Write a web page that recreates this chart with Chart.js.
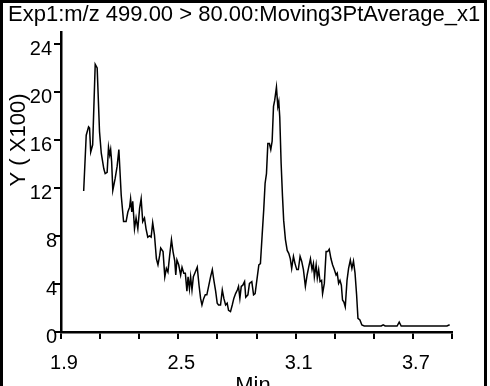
<!DOCTYPE html>
<html>
<head>
<meta charset="utf-8">
<script src="https://cdn.jsdelivr.net/npm/chart.js@4"></script>
<style>
  html, body { margin: 0; padding: 0; background: #fff; overflow: hidden; }
  canvas { display: block; }
</style>
</head>
<body>
<canvas id="chromChart" width="490" height="386"></canvas>
<script>
const titleText = 'Exp1:m/z 499.00 > 80.00:Moving3PtAverage_x1';
const xAxisTitle = 'Min';
const yAxisTitle = 'Y ( X100)';

// retention time (min)
const retentionTimes = [
  2.016, 2.029, 2.041, 2.046, 2.052, 2.062, 2.075, 2.085, 2.097, 2.106,
  2.119, 2.126, 2.136, 2.143, 2.149, 2.154, 2.159, 2.165, 2.177, 2.187,
  2.196, 2.208, 2.220, 2.233, 2.242, 2.251, 2.256, 2.262, 2.267, 2.276,
  2.284, 2.293, 2.302, 2.310, 2.318, 2.327, 2.335, 2.344, 2.353, 2.361,
  2.369, 2.378, 2.388, 2.396, 2.405, 2.410, 2.422, 2.431, 2.439, 2.447,
  2.456, 2.465, 2.473, 2.482, 2.487, 2.493, 2.502, 2.512, 2.519, 2.528,
  2.536, 2.544, 2.550, 2.557, 2.563, 2.570, 2.577, 2.587, 2.597, 2.606,
  2.614, 2.621, 2.630, 2.638, 2.646, 2.655, 2.665, 2.674, 2.682, 2.691,
  2.699, 2.706, 2.716, 2.725, 2.733, 2.742, 2.750, 2.757, 2.767, 2.776,
  2.784, 2.793, 2.802, 2.808, 2.815, 2.822, 2.830, 2.839, 2.845, 2.856,
  2.864, 2.876, 2.885, 2.893, 2.904, 2.912, 2.920, 2.929, 2.937, 2.944,
  2.951, 2.958, 2.966, 2.973, 2.980, 2.987, 2.993, 3.002, 3.009, 3.014,
  3.019, 3.026, 3.033, 3.039, 3.048, 3.057, 3.065, 3.073, 3.080, 3.089,
  3.097, 3.106, 3.114, 3.123, 3.131, 3.140, 3.150, 3.159, 3.167, 3.176,
  3.184, 3.191, 3.196, 3.205, 3.211, 3.218, 3.225, 3.233, 3.238, 3.247,
  3.256, 3.264, 3.272, 3.281, 3.289, 3.298, 3.307, 3.313, 3.320, 3.327,
  3.334, 3.340, 3.347, 3.354, 3.363, 3.371, 3.380, 3.388, 3.396, 3.404,
  3.412, 3.419, 3.429, 3.439, 3.451, 3.538, 3.548, 3.558, 3.619, 3.630,
  3.640, 3.874, 3.888
];

// intensity (x100)
const intensities = [
  11.75, 16.4, 17.1, 17.0, 15.0, 15.6, 22.3, 22.0, 16.7, 14.9,
  13.6, 13.2, 13.3, 15.4, 14.75, 15.2, 14.2, 11.8, 12.8, 13.8,
  15.2, 11.4, 9.2, 9.2, 10.0, 10.4, 11.1, 10.0, 10.9, 8.6,
  9.5, 8.6, 10.3, 11.1, 9.2, 9.5, 8.6, 7.9, 8.0, 7.9,
  9.1, 8.1, 6.1, 5.6, 6.4, 7.0, 6.7, 4.6, 5.3, 5.0,
  6.4, 7.7, 6.7, 5.9, 4.75, 6.0, 5.6, 4.75, 5.4, 4.9,
  4.9, 3.4, 4.6, 3.6, 4.6, 3.5, 4.6, 5.0, 5.4, 3.9,
  2.8, 2.25, 2.8, 3.1, 3.1, 3.8, 4.6, 5.2, 4.3, 3.4,
  2.4, 2.25, 2.25, 3.5, 2.8, 2.25, 2.4, 1.8, 1.7, 2.25,
  2.8, 3.2, 3.5, 3.8, 2.8, 3.8, 3.9, 4.2, 2.9, 3.1,
  4.05, 4.2, 3.1, 3.2, 4.6, 5.6, 5.7, 8.1, 10.2, 12.4,
  13.2, 15.7, 15.7, 15.2, 15.9, 18.8, 19.3, 20.4, 18.8, 19.2,
  17.9, 14.05, 11.3, 9.3, 7.7, 6.8, 6.55, 6.1, 5.3, 6.3,
  5.7, 5.2, 5.2, 6.3, 5.9, 5.2, 3.8, 4.75, 5.4, 6.1,
  5.2, 5.7, 4.6, 5.6, 4.5, 5.2, 4.2, 4.3, 3.2, 4.05,
  6.7, 6.7, 6.9, 6.1, 5.6, 5.2, 4.75, 4.9, 4.05, 4.3,
  3.9, 2.67, 2.5, 2.1, 4.3, 5.3, 6.0, 5.3, 5.9, 4.9,
  3.1, 1.14, 1.0, 0.58, 0.5, 0.5, 0.6, 0.5, 0.5, 0.83,
  0.5, 0.5, 0.6
];

const xTicks = [1.9, 2.1, 2.3, 2.5, 2.7, 2.9, 3.1, 3.3, 3.5, 3.7, 3.9];
const xTickLabels = ['1.9', '', '', '2.5', '', '', '3.1', '', '', '3.7', ''];
const yTicks = [0, 4, 8, 12, 16, 20, 24];
const yTickLabels = ['0', '4', '8', '12', '16', '20', '24'];

const FONT = '"Liberation Sans", Arial, sans-serif';

// frame, title, axis titles and y labels
const decorPlugin = {
  id: 'decor',
  afterDraw(chart) {
    const ctx = chart.ctx;
    const area = chart.chartArea;
    const yScale = chart.scales.y;
    ctx.save();
    ctx.fillStyle = '#000';

    ctx.font = '22px ' + FONT;
    ctx.textAlign = 'left';
    ctx.textBaseline = 'alphabetic';
    ctx.fillText(titleText, 8, 21);

    ctx.font = '20px ' + FONT;
    ctx.textAlign = 'right';
    ctx.textBaseline = 'middle';
    yTicks.forEach((v, i) => {
      const lbl = yTickLabels[i];
      const xr = area.left - (lbl.length > 1 ? 9 : 4);
      ctx.fillText(lbl, xr, yScale.getPixelForValue(v) + 5);
    });

    ctx.font = '22px ' + FONT;
    ctx.textAlign = 'center';
    ctx.textBaseline = 'alphabetic';
    ctx.fillText(xAxisTitle, 253, 392);

    ctx.save();
    ctx.translate(25, 140);
    ctx.rotate(-Math.PI / 2);
    ctx.fillText(yAxisTitle, 0, 0);
    ctx.restore();

    ctx.lineWidth = 3;
    ctx.strokeStyle = '#000';
    ctx.strokeRect(1.5, 1.5, 484, 420);
    ctx.restore();
  }
};

const ctx = document.getElementById('chromChart').getContext('2d');
new Chart(ctx, {
  type: 'line',
  data: {
    datasets: [{
      data: retentionTimes.map((t, i) => ({ x: t, y: intensities[i] })),
      borderColor: '#000',
      borderWidth: 1.5,
      pointRadius: 0,
      tension: 0,
      fill: false
    }]
  },
  options: {
    responsive: false,
    animation: false,
    devicePixelRatio: 1,
    layout: { padding: { left: 0, top: 32, right: 38, bottom: 0 } },
    plugins: { legend: { display: false }, tooltip: { enabled: false }, title: { display: false } },
    scales: {
      x: {
        type: 'linear',
        min: 1.9,
        max: 3.9,
        afterBuildTicks: s => { s.ticks = xTicks.map(v => ({ value: v })); },
        afterFit: s => { s.height = 54; },
        ticks: {
          autoSkip: false,
          maxRotation: 0,
          padding: 12,
          labelOffset: 3,
          color: '#000',
          font: { family: FONT, size: 20 },
          callback: (v, i) => xTickLabels[i]
        },
        grid: { drawOnChartArea: false, drawTicks: true, tickLength: 7, color: '#000', lineWidth: 2 },
        border: { display: true, color: '#000', width: 2.5 }
      },
      y: {
        min: 0,
        max: 25,
        afterBuildTicks: s => { s.ticks = yTicks.map(v => ({ value: v })); },
        afterFit: s => { s.width = 61; },
        ticks: { display: false },
        grid: { drawOnChartArea: false, drawTicks: true, tickLength: 7, color: '#000', lineWidth: 2 },
        border: { display: true, color: '#000', width: 2.5 }
      }
    }
  },
  plugins: [decorPlugin]
});
</script>
</body>
</html>
